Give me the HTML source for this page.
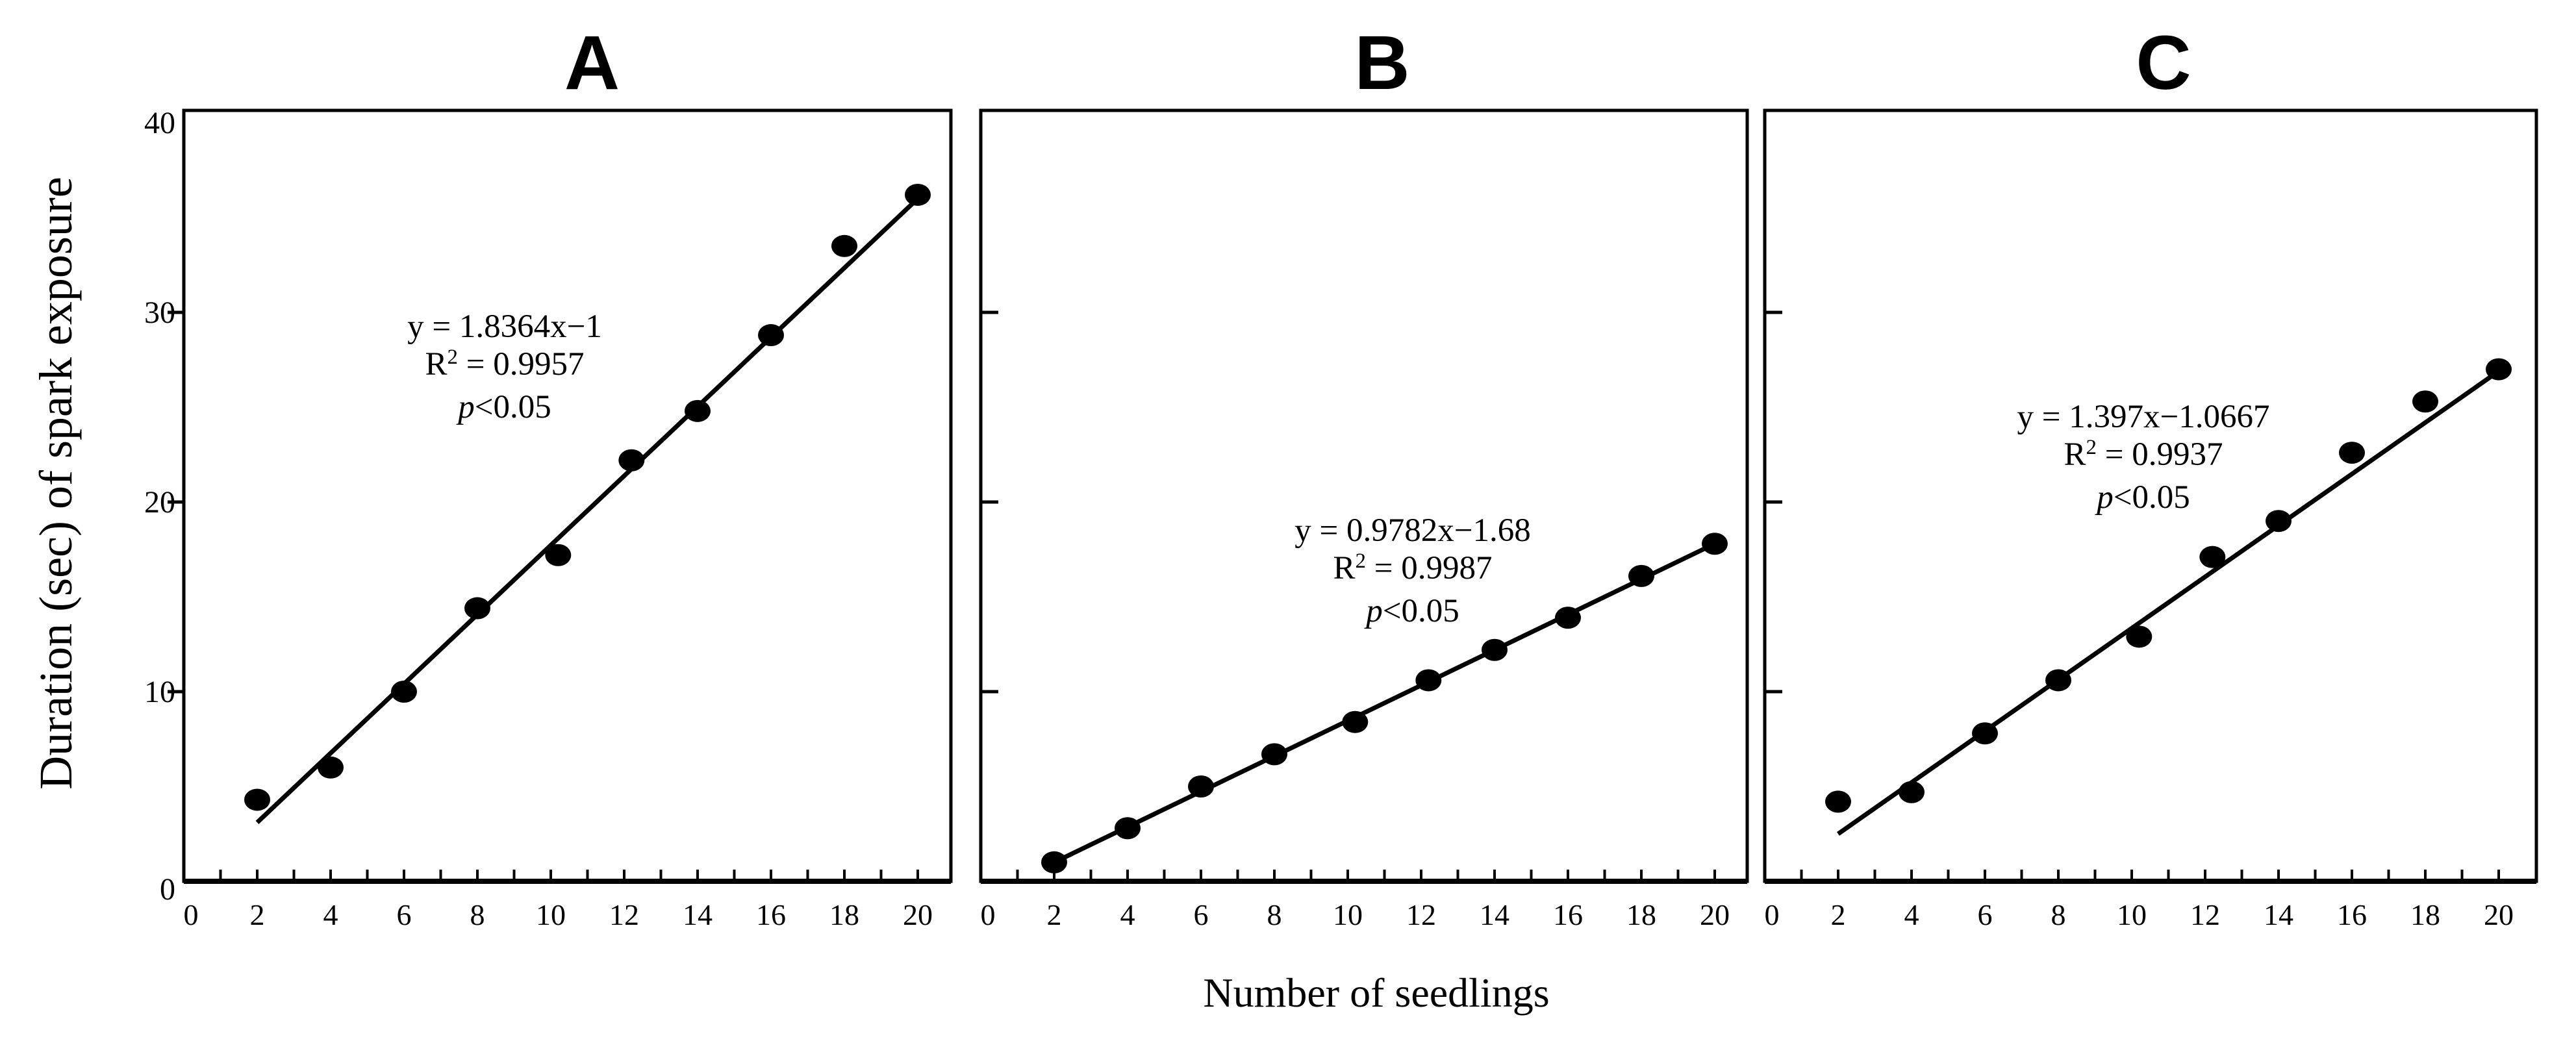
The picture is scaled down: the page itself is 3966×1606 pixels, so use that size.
<!DOCTYPE html>
<html><head><meta charset="utf-8"><style>
html,body{margin:0;padding:0;background:#fff;}
svg{display:block;}
text{font-family:"Liberation Serif",serif;fill:#000;}
</style></head><body>
<svg id="fig" width="3966" height="1606" viewBox="0 0 3966 1606">
<text x="2119" y="1550" font-size="64" text-anchor="middle">Number of seedlings</text>
<text transform="translate(110,744) rotate(-90)" font-size="72" text-anchor="middle">Duration (sec) of spark exposure</text>
</svg>
<script>
const xCats=[2,4,6,8,10.2,12.2,14,16,18,20];
const seriesA=[4.3,6,10,14.4,17.2,22.2,24.8,28.8,33.5,36.2];
const seriesB=[1,2.8,5,6.7,8.4,10.6,12.2,13.9,16.1,17.8];
const seriesC=[4.2,4.7,7.8,10.6,12.9,17.1,19,22.6,25.3,27];
const fitA=[[2,3.1],[20,36]];
const fitB=[[2,1],[20,17.8]];
const fitC=[[2,2.5],[20,26.9]];
const xTickLabels=[0,2,4,6,8,10,12,14,16,18,20];
const yTickLabels=[0,10,20,30,40];
const eqA=["y = 1.8364x\u22121","0.9957"];
const eqB=["y = 0.9782x\u22121.68","0.9987"];
const eqC=["y = 1.397x\u22121.0667","0.9937"];
const panelNames=["A","B","C"];

const NS="http://www.w3.org/2000/svg";
const svg=document.getElementById('fig');
function mk(tag,attrs,parent){const e=document.createElementNS(NS,tag);for(const k in attrs)e.setAttribute(k,attrs[k]);(parent||svg).appendChild(e);return e;}
const plotTop=170,plotBottom=1357,unit=56.5,yPer=29.2;
const panels=[
 {L:283,R:1464,s:seriesA,f:fitA,eq:eqA,tx:777,ty:519,out:true,tdx:38},
 {L:1510,R:2690,s:seriesB,f:fitB,eq:eqB,tx:2175,ty:833,out:false,tdx:28},
 {L:2717,R:3905,s:seriesC,f:fitC,eq:eqC,tx:3300,ty:658,out:false,tdx:20}
];
panels.forEach((p,i)=>{
 const g=mk('g',{});
 
 
 const xs=v=>p.L+v*unit, ys=v=>plotBottom-v*yPer;
 const t=mk('text',{x:(p.L+p.R)/2+p.tdx,y:137,'font-size':118,'font-weight':'bold','text-anchor':'middle'},g);
 t.style.fontFamily='"Liberation Sans",sans-serif';
 t.textContent=panelNames[i];
 
 
 const box=mk('rect',{x:p.L,y:plotTop,width:p.R-p.L,height:plotBottom-plotTop,fill:'none',stroke:'#000','stroke-width':5},g);
 
 
 const ax=mk('line',{x1:p.L,x2:p.R,y1:plotBottom,y2:plotBottom,stroke:'#000','stroke-width':8},g);
 
 
 for(let k=1;k<=20;k++){
  const tk=mk('line',{x1:xs(k),x2:xs(k),y1:plotBottom,y2:plotBottom-18,stroke:'#000','stroke-width':4},g);
  
  
 }
 xTickLabels.forEach(v=>{
  const l=mk('text',{x:xs(v)+(v===0?11:0),y:1424,'font-size':46,'text-anchor':'middle'},g);
  l.textContent=v;
  
  
 });
 yTickLabels.forEach(v=>{
  if(v>0&&v<40){
   const tk=mk('line',{x1:p.L,x2:p.out?p.L-25:p.L+27,y1:ys(v),y2:ys(v),stroke:'#000','stroke-width':5},g);
   
   
  }
  if(i===0){
   const l=mk('text',{x:270,y:ys(v)+(v===0?28:16),'font-size':48,'text-anchor':'end'},g);
   l.textContent=v;
   
   
  }
 });
 const fl=mk('line',{x1:xs(p.f[0][0]),y1:ys(p.f[0][1]),x2:xs(p.f[1][0]),y2:ys(p.f[1][1]),stroke:'#000','stroke-width':7},g);
 
 
 p.s.forEach((v,j)=>{
  const c=mk('ellipse',{cx:xs(xCats[j]),cy:ys(v),rx:20,ry:17,fill:'#000'},g);
  
  
 });
 const e1=mk('text',{x:p.tx,y:p.ty,'font-size':51,'text-anchor':'middle'},g);
 e1.textContent=p.eq[0];
 
 
 const e2=mk('text',{x:p.tx,y:p.ty+58,'font-size':51,'text-anchor':'middle'},g);
 e2.innerHTML='R<tspan font-size="33" dy="-17">2</tspan><tspan dy="17"> = '+p.eq[1]+'</tspan>';
 
 
 const e3=mk('text',{x:p.tx,y:p.ty+124,'font-size':51,'text-anchor':'middle'},g);
 e3.innerHTML='<tspan font-style="italic">p</tspan>&lt;0.05';
 
 
});
</script>
</body></html>
